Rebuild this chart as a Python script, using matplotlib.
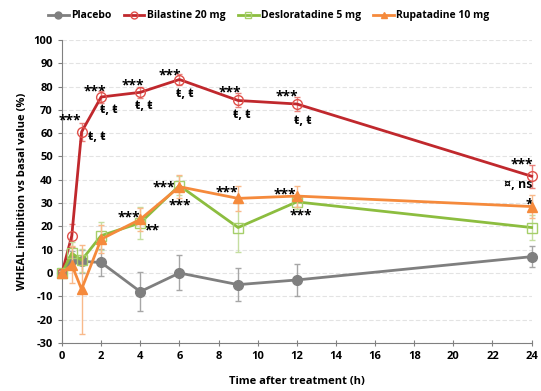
import matplotlib.pyplot as plt
from matplotlib.lines import Line2D

plt.rcParams['font.family'] = ['Open Sans', 'DejaVu Sans']
plt.rcParams['font.weight'] = 'bold'
plt.rcParams['axes.unicode_minus'] = False

# Time points (h)
times = [0, 0.5, 1, 2, 4, 6, 9, 12, 24]

# Mean wheal inhibition (%) and error bars
placebo = [0, 5.5, 5, 4.5, -8, 0, -5, -3, 7]
placebo_err = [1, 4, 5, 6, 8.5, 7.5, 7, 7, 4.5]
bilastine = [0, 16, 60.5, 75.5, 77.5, 83, 74, 72.5, 41.5]
bilastine_err = [1, 5, 4, 2.5, 2.5, 2.5, 3, 3, 5]
deslor = [0, 8.5, 5.5, 16, 21.5, 37.5, 19.5, 30.5, 19.5]
deslor_err = [1, 5, 5, 6, 7, 4, 10.5, 3, 5.5]
rupa = [0, 3.5, -7, 14.5, 23, 37, 32, 33, 28.5]
rupa_err = [1, 8, 19, 6, 5, 5, 5.5, 4.5, 5]

# Significance labels: (x, y, text)
bil_stars = [(0.4, 66.5, '***'), (1.7, 79, '***'), (3.6, 81.5, '***'), (5.5, 86, '***'),
             (8.6, 78.5, '***'), (11.5, 77, '***'), (23.5, 47.6, '***')]
bil_marks = [(1.8, 58.5, 'ŧ, ŧ'), (2.4, 70, 'ŧ, ŧ'), (4.2, 72, 'ŧ, ŧ'), (6.3, 77, 'ŧ, ŧ'),
             (9.2, 68, 'ŧ, ŧ'), (12.3, 65.5, 'ŧ, ŧ'), (23.3, 37.8, '¤, ns')]
rupa_stars = [(3.4, 25, '***'), (5.2, 37.8, '***'), (8.4, 35.6, '***'), (11.4, 34.8, '***'),
              (23.9, 30.5, '*')]
deslor_stars = [(4.6, 19.3, '**'), (6.0, 30, '***'), (12.2, 26, '***')]

fig = plt.figure(figsize=(5.41, 3.91), dpi=100)
ax = fig.add_axes([0.1146, 0.123, 0.868, 0.775])

series = [
    ('Placebo', placebo, placebo_err, '#7f7f7f', '#a6a6a6', 'o', 7, '#7f7f7f', '#7f7f7f'),
    ('Bilastine 20 mg', bilastine, bilastine_err, '#c0282d', '#e8807a', 'o', 7, 'none', '#e0504a'),
    ('Desloratadine 5 mg', deslor, deslor_err, '#8cbd3f', '#c5dea0', 's', 7, 'none', '#a6cf6a'),
    ('Rupatadine 10 mg', rupa, rupa_err, '#f58a3c', '#f9b98a', '^', 7, '#f58a3c', '#f58a3c'),
]
handles = []
for i, (name, vals, err, col, ecol, mk, ms, mfc, mec) in enumerate(series):
    cont = ax.errorbar(times, vals, yerr=err, color=col, ecolor=ecol, lw=2, marker=mk,
                       ms=ms, mfc=mfc, mec=mec, mew=1, elinewidth=1, capsize=2,
                       zorder=3 + i)
    for art in cont.get_children():
        art.set_clip_on(False)
    handles.append(Line2D([], [], color=col, lw=2, marker=mk, ms=ms - 2, mfc=mfc,
                          mec=mec, mew=1, label=name))

for x, y, s in bil_stars + rupa_stars + deslor_stars:
    ax.text(x, y - 1.2, s, ha='center', va='center', fontsize=10, fontweight='bold')
for x, y, s in bil_marks:
    ax.text(x, y, s, ha='center', va='center', fontsize=9, fontweight='bold')

ax.set_xlim(0, 24)
ax.set_ylim(-30, 100)
ax.set_xticks(range(0, 25, 2))
ax.set_yticks(range(-30, 101, 10))
ax.tick_params(labelsize=8, color='#808080', length=3)
ax.tick_params(axis='x', direction='inout', length=5)
ax.yaxis.grid(True, color='#e3e3e3', lw=0.8, ls=(0, (4, 2)))
ax.set_axisbelow(True)
for side in ['top', 'right']:
    ax.spines[side].set_visible(False)
for side in ['left', 'bottom']:
    ax.spines[side].set_color('#808080')

ax.set_xlabel('Time after treatment (h)', fontsize=8, fontweight='bold', labelpad=10)
ax.set_ylabel('WHEAL inhibition vs basal value (%)', fontsize=8, fontweight='bold')

ax.legend(handles=handles, loc='lower center', bbox_to_anchor=(0.44, 1.03), ncol=4,
          frameon=False, fontsize=7.5, handlelength=2.0, columnspacing=1.2,
          handletextpad=0.2)

fig.savefig('out.png', dpi=100)
